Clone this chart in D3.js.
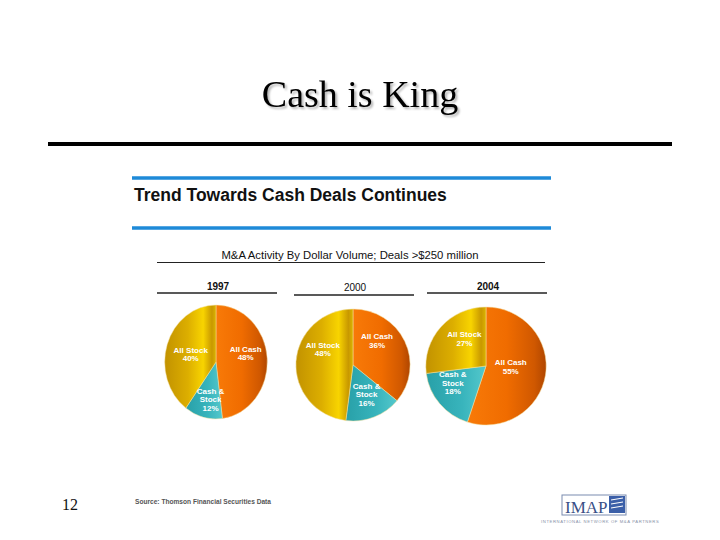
<!DOCTYPE html>
<html><head><meta charset="utf-8">
<script src="https://cdn.jsdelivr.net/npm/d3@7"></script>
<style>html,body{margin:0;padding:0;background:#fff;}svg{display:block;}</style>
</head><body>
<script>
// ---- data ----
const years = ["1997", "2000", "2004"];
const categories = ["All Cash", "Cash & Stock", "All Stock"];
const values1997 = [48, 12, 40];
const values2000 = [36, 16, 48];
const values2004 = [55, 18, 27];
const seriesValues = [values1997, values2000, values2004];
const labelLines = [["All Cash"], ["Cash &", "Stock"], ["All Stock"]];

// ---- layout ----
const W = 720, H = 540;
const svg = d3.select("body").append("svg").attr("width", W).attr("height", H);
const defs = svg.append("defs");
const SERIF = "'Liberation Serif', 'Times New Roman', serif";
const SANS = "'Liberation Sans', Arial, sans-serif";

const shadow = defs.append("filter").attr("id","sh").attr("x","-10%").attr("y","-10%").attr("width","130%").attr("height","140%");
shadow.append("feGaussianBlur").attr("in","SourceAlpha").attr("stdDeviation",1).attr("result","b");
shadow.append("feOffset").attr("in","b").attr("dx",2).attr("dy",2).attr("result","o");
shadow.append("feComponentTransfer").attr("in","o").attr("result","o2").append("feFuncA").attr("type","linear").attr("slope",0.3);
const m = shadow.append("feMerge"); m.append("feMergeNode").attr("in","o2"); m.append("feMergeNode").attr("in","SourceGraphic");

// gradients per category
const grads = {
  "All Cash": [["0%","#f87a08"],["50%","#f06c00"],["85%","#d05800"],["100%","#b04600"]],
  "Cash & Stock": [["0%","#28a0a8"],["60%","#38b4bc"],["100%","#54c8cc"]],
  "All Stock": [["0%","#c29200"],["45%","#dcae00"],["75%","#f8d400"],["92%","#c89800"],["100%","#dcb400"]]
};
const color = d3.scaleOrdinal().domain(categories).range(categories.map((c,i)=>"url(#g"+i+")"));
categories.forEach((c,i)=>{
  const g = defs.append("linearGradient").attr("id","g"+i).attr("x1","0").attr("y1","0").attr("x2","1").attr("y2","0");
  grads[c].forEach(s=>g.append("stop").attr("offset",s[0]).attr("stop-color",s[1]));
});

// Title
svg.append("text").attr("x",360).attr("y",107).attr("text-anchor","middle")
  .attr("font-family",SERIF).attr("font-size",38)
  .attr("fill","#000").attr("filter","url(#sh)").text("Cash is King");
svg.append("line").attr("x1",48).attr("x2",672).attr("y1",144).attr("y2",144).attr("stroke","#000").attr("stroke-width",4);

// Blue lines + heading
[178,228].forEach(y=>svg.append("line").attr("x1",132).attr("x2",551).attr("y1",y).attr("y2",y).attr("stroke","#1e8ad8").attr("stroke-width",3.5));
svg.append("text").attr("x",134).attr("y",201).attr("font-family",SANS)
  .attr("font-weight","bold").attr("font-size",17.5).attr("fill","#111").text("Trend Towards Cash Deals Continues");

// subtitle
svg.append("text").attr("x",350).attr("y",259).attr("text-anchor","middle").attr("font-family",SANS)
  .attr("font-size",11.3).attr("fill","#111").text("M&A Activity By Dollar Volume; Deals >$250 million");
svg.append("line").attr("x1",157).attr("x2",545).attr("y1",262.5).attr("y2",262.5).attr("stroke","#222").attr("stroke-width",1);

// pies
const centersX = [216, 353, 486];
const centersY = [362, 365, 366];
const radii = [57, 56, 59];
const xScale = [0.9, 1.02, 1.02];
const yearY = [290, 291, 290];
const lineY = [293, 295, 293];
const labelR = [0.58, 0.6, 0.5];
// label nudges [dx,dy] per pie, per category
const nudges = [
  [[0,-7],[2,5],[3,2]],
  [[-7,-10],[1,-2],[4,-14]],
  [[-5,-4],[-10,-2],[1,-8]]
];
const pie = d3.pie().sort(null).value(d=>d.v);

years.forEach((yr, yi)=>{
  const cx = centersX[yi], cy = centersY[yi], r = radii[yi];
  svg.append("text").attr("x",cx+2).attr("y",yearY[yi]).attr("text-anchor","middle")
    .attr("font-family",SANS).attr("font-weight", yi===1?"normal":"bold")
    .attr("font-size",10).attr("fill","#111").text(yr);
  svg.append("line").attr("x1",cx-59).attr("x2",cx+61).attr("y1",lineY[yi]).attr("y2",lineY[yi])
    .attr("stroke","#222").attr("stroke-width",1.3);

  const data = categories.map((c,i)=>({c, v: seriesValues[yi][i], i}));
  const arcs = pie(data);
  const arc = d3.arc().innerRadius(0).outerRadius(r);
  const lab = d3.arc().innerRadius(r*labelR[yi]).outerRadius(r*labelR[yi]);
  const g = svg.append("g").attr("transform",`translate(${cx},${cy}) scale(${xScale[yi]},1)`);
  g.selectAll("path").data(arcs).join("path")
    .attr("d",arc).attr("fill",d=>color(d.data.c))
    .attr("stroke","#f4e0a0").attr("stroke-width",0.5);
  const lg = svg.append("g").attr("transform",`translate(${cx},${cy})`);
  arcs.forEach(a=>{
    let [x,y] = lab.centroid(a);
    const [dx,dy] = nudges[yi][a.data.i];
    x = x*xScale[yi] + dx; y += dy;
    const lines = labelLines[a.data.i].concat([a.data.v+"%"]);
    const t = lg.append("text").attr("text-anchor","middle")
      .attr("font-family",SANS).attr("font-weight","bold")
      .attr("font-size",8).attr("fill","#fff");
    const y0 = y - (lines.length-1)*8.5/2 + 3;
    lines.forEach((l,k)=>t.append("tspan").attr("x",x).attr("y",y0+k*8.5).text(l));
  });
});

// footer
svg.append("text").attr("x",62).attr("y",510).attr("font-family",SERIF)
  .attr("font-size",16).attr("fill","#111").text("12");
svg.append("text").attr("x",135).attr("y",504).attr("font-family",SANS)
  .attr("font-weight","bold").attr("font-size",6.6).attr("fill","#555").text("Source:  Thomson Financial Securities Data");

// logo
const lgo = svg.append("g");
lgo.append("rect").attr("x",562).attr("y",495).attr("width",64).attr("height",20).attr("fill","#fff").attr("stroke","#7a8cb0").attr("stroke-width",1);
lgo.append("text").attr("x",565).attr("y",513).attr("font-family",SERIF)
  .attr("font-size",17).attr("fill","#3a4f86").text("IMAP");
lgo.append("rect").attr("x",609).attr("y",496).attr("width",16).attr("height",17).attr("fill","#3b5fa8");
[500,504,508].forEach(y=>lgo.append("line").attr("x1",611).attr("x2",623).attr("y1",y).attr("y2",y-2).attr("stroke","#fff").attr("stroke-width",1));
lgo.append("text").attr("x",541).attr("y",523).attr("font-family",SANS)
  .attr("font-size",4.2).attr("fill","#8892a8").attr("letter-spacing",0.6).text("INTERNATIONAL NETWORK OF M&A PARTNERS");
</script>
</body></html>
